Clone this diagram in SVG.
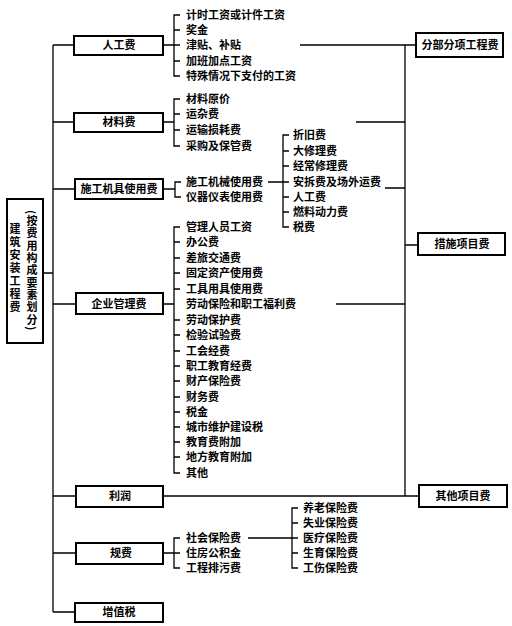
<svg xmlns="http://www.w3.org/2000/svg" width="512" height="626" viewBox="0 0 512 626">
<style>
.t{font-family:"Noto Sans CJK SC","Noto Sans CJK JP",sans-serif;font-size:11px;font-weight:bold;fill:#000}
.c{text-anchor:middle}
.v{writing-mode:vertical-rl}
.box{fill:#fff;stroke:#000;stroke-width:2}
.ln{fill:none;stroke:#000;stroke-width:1.3}
</style>
<rect width="512" height="626" fill="#fff"/>
<g id="connectors">
<path class="ln" d="M53,45 V612 M43,273 H53 M53,45 H74 M53,122 H74 M53,189 H75 M53,304 H76 M53,496 H76 M53,553 H76 M53,612 H75"/>
<path class="ln" d="M163,45 H174 M180,15 H174 V76 H180 M174,30 H180 M174,45 H180 M174,61 H180"/>
<path class="ln" d="M163,122 H174 M180,99 H174 V146 H180 M174,114 H180 M174,130 H180"/>
<path class="ln" d="M163,189 H175 M181,182 H175 V197 H181"/>
<path class="ln" d="M268,182 H289 M289,135 H283 V227 H289 M283,151 H289 M283,166 H289 M283,197 H289 M283,212 H289"/>
<path class="ln" d="M163,304 H174 M180,227 H174 V473 H180 M174,242 H180 M174,258 H180 M174,273 H180 M174,289 H180 M174,320 H180 M174,335 H180 M174,351 H180 M174,366 H180 M174,381 H180 M174,397 H180 M174,412 H180 M174,427 H180 M174,442 H180 M174,457 H180"/>
<path class="ln" d="M163,553 H174 M180,538 H174 V568 H180 M174,553 H180"/>
<path class="ln" d="M248,538 H298 M298,508 H292 V568 H298 M292,523 H298 M292,553 H298"/>
<path class="ln" d="M405,45 V496 M300,45 H416 M356,122 H405 M385,188 H405 M336,304 H405 M405,245 H418 M163,496 H419"/>
</g>
<g id="main"><rect class="box" x="7" y="199" width="36" height="144"/>
<text class="t v" x="32" y="210" style="letter-spacing:1.3px">(按费用构成要素划分)</text>
<text class="t v" x="15" y="223" style="letter-spacing:2px">建筑安装工程费</text></g>
<g id="rengongfei"><rect class="box" x="74" y="36" width="89" height="19"/><text class="t c" x="119" y="49">人工费</text></g>
<g id="cailiaofei"><rect class="box" x="74" y="113" width="89" height="19"/><text class="t c" x="119" y="126">材料费</text></g>
<g id="jijufei"><rect class="box" x="75" y="179" width="88" height="20"/><text class="t c" x="119" y="193">施工机具使用费</text></g>
<g id="guanlifei"><rect class="box" x="76" y="293" width="87" height="21"/><text class="t c" x="119" y="308">企业管理费</text></g>
<g id="lirun"><rect class="box" x="76" y="486" width="87" height="21"/><text class="t c" x="120" y="500">利润</text></g>
<g id="guifei"><rect class="box" x="76" y="543" width="87" height="21"/><text class="t c" x="121" y="557">规费</text></g>
<g id="zengzhishui"><rect class="box" x="75" y="603" width="88" height="19"/><text class="t c" x="119" y="616">增值税</text></g>
<g id="fenbufenxiang"><rect class="box" x="416" y="33" width="87" height="24"/><text class="t c" x="460" y="49">分部分项工程费</text></g>
<g id="cuoshi"><rect class="box" x="418" y="233" width="87" height="22"/><text class="t c" x="462" y="248">措施项目费</text></g>
<g id="qita"><rect class="box" x="419" y="485" width="88" height="22"/><text class="t c" x="463" y="500">其他项目费</text></g>
<g id="rengong-items">
<text class="t" x="186" y="19">计时工资或计件工资</text>
<text class="t" x="186" y="34">奖金</text>
<text class="t" x="186" y="49">津贴、补贴</text>
<text class="t" x="186" y="65">加班加点工资</text>
<text class="t" x="186" y="80">特殊情况下支付的工资</text>
</g>
<g id="cailiao-items">
<text class="t" x="186" y="103">材料原价</text>
<text class="t" x="186" y="118">运杂费</text>
<text class="t" x="186" y="134">运输损耗费</text>
<text class="t" x="186" y="150">采购及保管费</text>
</g>
<g id="jiju-items">
<text class="t" x="186" y="186">施工机械使用费</text>
<text class="t" x="186" y="201">仪器仪表使用费</text>
</g>
<g id="jixie-items">
<text class="t" x="293" y="139">折旧费</text>
<text class="t" x="293" y="155">大修理费</text>
<text class="t" x="293" y="170">经常修理费</text>
<text class="t" x="293" y="186">安拆费及场外运费</text>
<text class="t" x="293" y="201">人工费</text>
<text class="t" x="293" y="216">燃料动力费</text>
<text class="t" x="293" y="231">税费</text>
</g>
<g id="guanli-items">
<text class="t" x="186" y="231">管理人员工资</text>
<text class="t" x="186" y="246">办公费</text>
<text class="t" x="186" y="262">差旅交通费</text>
<text class="t" x="186" y="277">固定资产使用费</text>
<text class="t" x="186" y="293">工具用具使用费</text>
<text class="t" x="186" y="308">劳动保险和职工福利费</text>
<text class="t" x="186" y="324">劳动保护费</text>
<text class="t" x="186" y="339">检验试验费</text>
<text class="t" x="186" y="355">工会经费</text>
<text class="t" x="186" y="370">职工教育经费</text>
<text class="t" x="186" y="385">财产保险费</text>
<text class="t" x="186" y="401">财务费</text>
<text class="t" x="186" y="416">税金</text>
<text class="t" x="186" y="431">城市维护建设税</text>
<text class="t" x="186" y="446">教育费附加</text>
<text class="t" x="186" y="461">地方教育附加</text>
<text class="t" x="186" y="477">其他</text>
</g>
<g id="guifei-items">
<text class="t" x="186" y="542">社会保险费</text>
<text class="t" x="186" y="557">住房公积金</text>
<text class="t" x="186" y="572">工程排污费</text>
</g>
<g id="baoxian-items">
<text class="t" x="303" y="512">养老保险费</text>
<text class="t" x="303" y="527">失业保险费</text>
<text class="t" x="303" y="542">医疗保险费</text>
<text class="t" x="303" y="557">生育保险费</text>
<text class="t" x="303" y="572">工伤保险费</text>
</g>
</svg>
